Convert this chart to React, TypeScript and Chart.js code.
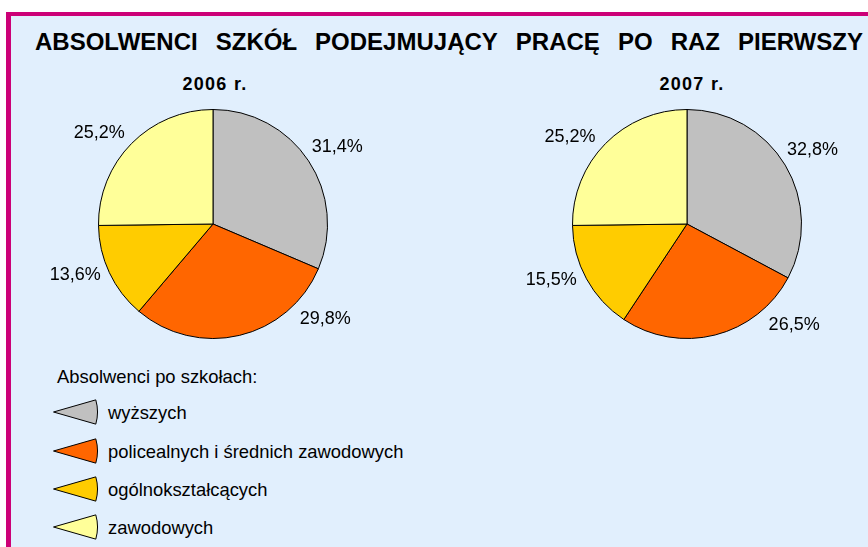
import React, { useEffect, useRef } from "react";
import { Chart, registerables } from "chart.js";

Chart.register(...registerables);

const titleWords = ["ABSOLWENCI", "SZKÓŁ", "PODEJMUJĄCY", "PRACĘ", "PO", "RAZ", "PIERWSZY"];
const legendTitle = "Absolwenci po szkołach:";
const categories = ["wyższych", "policealnych i średnich zawodowych", "ogólnokształcących", "zawodowych"];
const years = ["2006 r.", "2007 r."];
const values2006 = [31.4, 29.8, 13.6, 25.2];
const values2007 = [32.8, 26.5, 15.5, 25.2];
const sliceColors = ["#C0C0C0", "#FF6600", "#FFCC00", "#FFFF99"];
// label placement angles (degrees, clockwise from 12 o'clock) per chart
const labelAngles2006 = [58, 130, 250, 309];
const labelAngles2007 = [59, 133, 248, 307];

const FONT = '"Liberation Sans", Arial, Helvetica, sans-serif';

const fmt = (v: number) => v.toFixed(1).replace(".", ",") + "%";

const pctLabels = {
  id: "pctLabels",
  afterDatasetsDraw(chart: any, _args: any, opts: any) {
    const meta = chart.getDatasetMeta(0);
    const data = chart.data.datasets[0].data as number[];
    const ctx = chart.ctx;
    ctx.save();
    ctx.font = `18px ${FONT}`;
    ctx.fillStyle = "#000";
    ctx.textAlign = "center";
    ctx.textBaseline = "middle";
    meta.data.forEach((arc: any, i: number) => {
      const { x, y, outerRadius } = arc.getProps(["x", "y", "outerRadius"], true);
      const a = ((opts.angles?.[i] ?? 0) * Math.PI) / 180;
      const d = outerRadius + (opts.offset ?? 32);
      ctx.fillText(fmt(data[i]), x + d * Math.sin(a), y - d * Math.cos(a) + 1);
    });
    ctx.restore();
  },
};

type PieProps = {
  values: number[];
  angles: number[];
  left: number;
  top: number;
  width: number;
  height: number;
  padding: { left: number; right: number; top: number; bottom: number };
};

function Pie({ values, angles, left, top, width, height, padding }: PieProps) {
  const ref = useRef<HTMLCanvasElement | null>(null);
  useEffect(() => {
    if (!ref.current) return;
    const chart = new Chart(ref.current, {
      type: "pie",
      data: {
        labels: categories,
        datasets: [
          {
            data: values,
            backgroundColor: sliceColors,
            borderColor: "#000000",
            borderWidth: 1,
          },
        ],
      },
      options: {
        responsive: false,
        animation: false,
        devicePixelRatio: 1,
        events: [],
        layout: { padding },
        plugins: {
          legend: { display: false },
          tooltip: { enabled: false },
          title: { display: false },
          pctLabels: { angles, offset: 32 },
        } as any,
      },
      plugins: [pctLabels],
    });
    return () => chart.destroy();
  }, []);
  return (
    <canvas
      ref={ref}
      width={width}
      height={height}
      style={{ position: "absolute", left, top, width, height }}
    />
  );
}

function Wedge({ color, top }: { color: string; top: number }) {
  const R = 44;
  const a = (16 * Math.PI) / 180;
  const ax = 1.5;
  const ay = 13;
  const x1 = ax + R * Math.cos(a);
  const y1 = ay - R * Math.sin(a);
  const y2 = ay + R * Math.sin(a);
  const d = `M ${ax} ${ay} L ${x1} ${y1} A ${R} ${R} 0 0 1 ${x1} ${y2} Z`;
  return (
    <svg
      width={48}
      height={27}
      style={{ position: "absolute", left: 52, top }}
    >
      <path d={d} fill={color} stroke="#000" strokeWidth={1} />
    </svg>
  );
}

export default function App() {
  const legendTops = [404, 442.5, 481, 519];
  return (
    <div
      style={{
        position: "absolute",
        left: 0,
        top: 0,
        width: 868,
        height: 547,
        overflow: "hidden",
        background: "#ffffff",
        fontFamily: FONT,
      }}
    >
      <div
        style={{
          position: "absolute",
          left: 6,
          top: 12,
          width: 900,
          height: 600,
          boxSizing: "border-box",
          borderLeft: "5px solid #CC0077",
          borderTop: "4px solid #CC0077",
          background: "#E1EFFD",
        }}
      />
      <div
        style={{
          position: "absolute",
          left: 35,
          top: 30,
          width: 828,
          height: 24,
          display: "flex",
          justifyContent: "space-between",
          fontSize: 24,
          lineHeight: "24px",
          fontWeight: "bold",
          color: "#000",
          whiteSpace: "nowrap",
        }}
      >
        {titleWords.map((w) => (
          <span key={w}>{w}</span>
        ))}
      </div>
      {years.map((y, i) => (
        <div
          key={y}
          style={{
            position: "absolute",
            left: (i === 0 ? 215 : 692) - 60,
            top: 75,
            width: 120,
            textAlign: "center",
            fontSize: 18,
            lineHeight: "18px",
            fontWeight: "bold",
            letterSpacing: "1.3px",
            color: "#000",
          }}
        >
          {y}
        </div>
      ))}
      <Pie
        values={values2006}
        angles={labelAngles2006}
        left={20}
        top={60}
        width={400}
        height={300}
        padding={{ left: 78, right: 92, top: 49, bottom: 21 }}
      />
      <Pie
        values={values2007}
        angles={labelAngles2007}
        left={450}
        top={60}
        width={418}
        height={300}
        padding={{ left: 122, right: 66, top: 49, bottom: 21 }}
      />
      <div
        style={{
          position: "absolute",
          left: 57,
          top: 368,
          fontSize: 18.4,
          lineHeight: "18px",
          color: "#000",
          whiteSpace: "nowrap",
        }}
      >
        {legendTitle}
      </div>
      {categories.map((c, i) => (
        <React.Fragment key={c}>
          <Wedge color={sliceColors[i]} top={legendTops[i] + 15 - 7 - 13} />
          <div
            style={{
              position: "absolute",
              left: 108,
              top: legendTops[i],
              fontSize: 18.4,
              lineHeight: "18px",
              color: "#000",
              whiteSpace: "nowrap",
            }}
          >
            {c}
          </div>
        </React.Fragment>
      ))}
    </div>
  );
}
